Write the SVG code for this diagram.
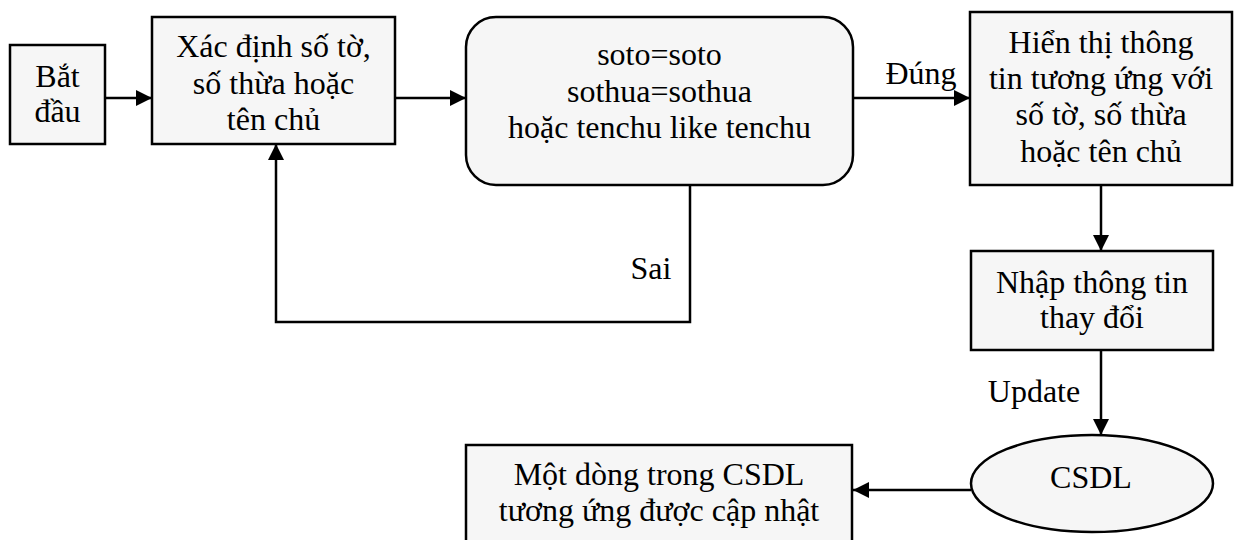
<svg xmlns="http://www.w3.org/2000/svg" width="1235" height="540" viewBox="0 0 1235 540">
  <defs>
    <marker id="arrow" viewBox="0 0 16 16" refX="16" refY="8" markerWidth="16" markerHeight="16" markerUnits="userSpaceOnUse" orient="auto">
      <path d="M0,0 L16,8 L0,16 Z" fill="#000"/>
    </marker>
    <style>
      .box { fill: #f6f6f6; stroke: #000; stroke-width: 2.5; }
      .edge { fill: none; stroke: #000; stroke-width: 2.5; }
      text { font-family: "Liberation Serif", "Times New Roman", serif; font-size: 32px; fill: #000; text-anchor: middle; }
    </style>
  </defs>
  <rect width="1235" height="540" fill="#fff"/>

  <!-- connectors -->
  <g id="connectors">
    <path class="edge" d="M105,98 H152" marker-end="url(#arrow)"/>
    <path class="edge" d="M395,98 H466" marker-end="url(#arrow)"/>
    <path class="edge" d="M853,98 H970" marker-end="url(#arrow)"/>
    <path class="edge" d="M690,185 V322 H276 V144" marker-end="url(#arrow)"/>
    <path class="edge" d="M1101,185 V251" marker-end="url(#arrow)"/>
    <path class="edge" d="M1101,350 V435" marker-end="url(#arrow)"/>
    <path class="edge" d="M971,490 H853" marker-end="url(#arrow)"/>
    <text x="921" y="84">Đúng</text>
    <text x="651" y="279">Sai</text>
    <text x="1034" y="402">Update</text>
  </g>

  <g id="start">
    <rect class="box" x="10" y="45" width="95" height="99"/>
    <text x="57.5" y="87">Bắt</text>
    <text x="57.5" y="122">đầu</text>
  </g>

  <g id="input-key">
    <rect class="box" x="152" y="17" width="243" height="127"/>
    <text x="273.5" y="57">Xác định số tờ,</text>
    <text x="273.5" y="93.5">số thừa hoặc</text>
    <text x="273.5" y="130">tên chủ</text>
  </g>

  <g id="condition">
    <rect class="box" x="466" y="17" width="387" height="168" rx="30" ry="30"/>
    <text x="659.5" y="65">soto=soto</text>
    <text x="659.5" y="101.5">sothua=sothua</text>
    <text x="659.5" y="138">hoặc tenchu like tenchu</text>
  </g>

  <g id="show-info">
    <rect class="box" x="970" y="12" width="262" height="173"/>
    <text x="1101" y="53">Hiển thị thông</text>
    <text x="1101" y="89">tin tương ứng với</text>
    <text x="1101" y="125">số tờ, số thừa</text>
    <text x="1101" y="162">hoặc tên chủ</text>
  </g>

  <g id="edit-info">
    <rect class="box" x="971" y="251" width="242" height="99"/>
    <text x="1092" y="293">Nhập thông tin</text>
    <text x="1092" y="328">thay đổi</text>
  </g>

  <g id="database">
    <ellipse class="box" cx="1092" cy="483.5" rx="121" ry="48.5"/>
    <text x="1091" y="488">CSDL</text>
  </g>

  <g id="result">
    <rect class="box" x="466" y="445" width="386" height="105"/>
    <text x="659" y="485">Một dòng trong CSDL</text>
    <text x="659" y="521">tương ứng được cập nhật</text>
  </g>
</svg>
